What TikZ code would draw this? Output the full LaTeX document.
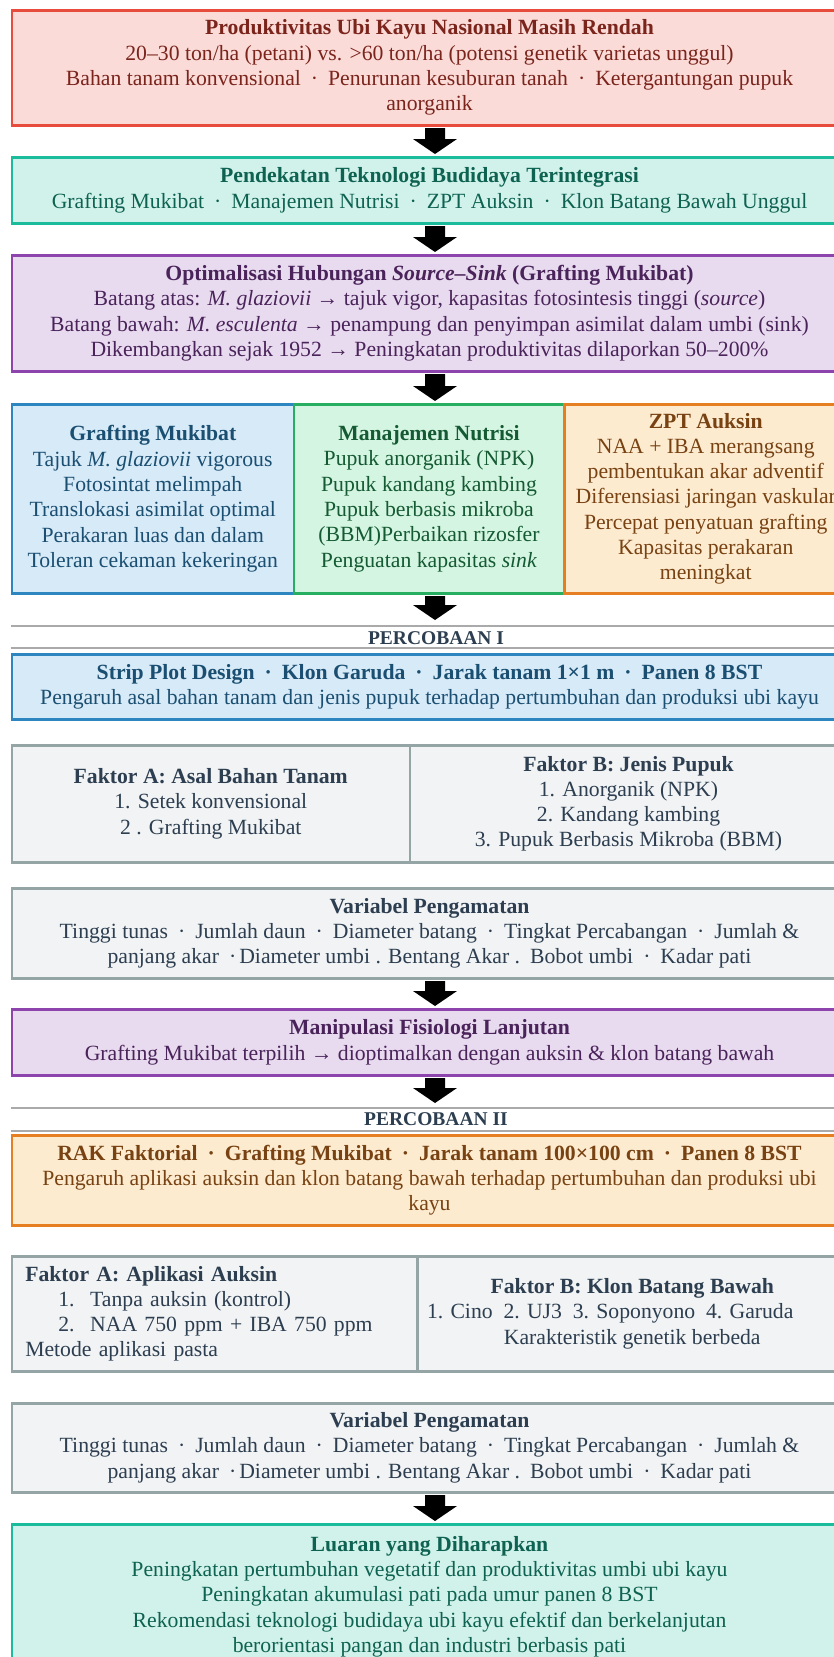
\documentclass[tikz,border=0pt]{standalone}
\usepackage{fontspec}
\setmainfont{Liberation Serif}
\usetikzlibrary{calc}
\definecolor{redfill}{HTML}{FADBD8}
\definecolor{redline}{HTML}{E74C3C}
\definecolor{redtext}{HTML}{7B241C}
\definecolor{tealfill}{HTML}{D1F2EB}
\definecolor{tealline}{HTML}{1ABC9C}
\definecolor{tealtext}{HTML}{0E6251}
\definecolor{purpfill}{HTML}{E8DAEF}
\definecolor{purpline}{HTML}{8E44AD}
\definecolor{purptext}{HTML}{4A235A}
\definecolor{bluefill}{HTML}{D6EAF8}
\definecolor{blueline}{HTML}{2E86C1}
\definecolor{bluetext}{HTML}{1B4F72}
\definecolor{grnfill}{HTML}{D5F5E3}
\definecolor{grnline}{HTML}{27AE60}
\definecolor{grntext}{HTML}{145A32}
\definecolor{orfill}{HTML}{FDEBD0}
\definecolor{orline}{HTML}{E67E22}
\definecolor{ortext}{HTML}{784212}
\definecolor{grayfill}{HTML}{F2F3F4}
\definecolor{grayline}{HTML}{95A5A6}
\definecolor{graytext}{HTML}{2C3E50}
\definecolor{sepline}{HTML}{AAAAAA}
\newcommand\myfs{\fontsize{21.7}{25.3}\selectfont}
\newcommand\dotsep{\hspace{10pt}·\hspace{10pt}}
\newcommand\blockarrow[3]{%
  \path (#1 -| axis) coordinate (bas) (#2 -| axis) coordinate (bae);
  \fill[black] ($(bas)+(-10,-1.5)$) -- ($(bas)+(10,-1.5)$) -- ($(bae)+(10,#3+15)$)
    -- ($(bae)+(22,#3+15)$) -- ($(bae)+(0,#3)$) -- ($(bae)+(-22,#3+15)$)
    -- ($(bae)+(-10,#3+15)$) -- cycle;}
\begin{document}
\begin{tikzpicture}[x=1pt,y=1pt,
  box/.style={rectangle, line width=2.5pt, inner sep=0pt, align=center, font=\myfs, anchor=north west},
  redbox/.style={box, draw=redline, fill=redfill, text=redtext},
  tealbox/.style={box, draw=tealline, fill=tealfill, text=tealtext},
  purpbox/.style={box, draw=purpline, fill=purpfill, text=purptext},
  bluebox/.style={box, draw=blueline, fill=bluefill, text=bluetext},
  grnbox/.style={box, draw=grnline, fill=grnfill, text=grntext},
  orbox/.style={box, draw=orline, fill=orfill, text=ortext},
  graybox/.style={box, draw=grayline, fill=grayfill, text=graytext},
  sepl/.style={draw=sepline, line width=1.5pt},
  lbl/.style={anchor=base, inner sep=0pt, text=graytext, font=\fontsize{19.5}{22}\selectfont\bfseries}]
\useasboundingbox (0,0) rectangle (834,-1657);
\fill[white] (0,0) rectangle (834,-1657);
\clip (0,0) rectangle (834,-1657);
\coordinate (axis) at (435,0);

\node[redbox, minimum width=835.5pt, minimum height=115pt] (prob) at (10.5,-9)
 {\textbf{Produktivitas Ubi Kayu Nasional Masih Rendah}\\
  20–30 ton/ha (petani) vs. >60 ton/ha (potensi genetik varietas unggul)\\
  Bahan tanam konvensional\dotsep Penurunan kesuburan tanah\dotsep Ketergantungan pupuk\\
  anorganik};

\node[tealbox, minimum width=835.5pt, minimum height=66pt] (tech) at (10.5,-156)
 {\textbf{Pendekatan Teknologi Budidaya Terintegrasi}\\
  Grafting Mukibat\dotsep Manajemen Nutrisi\dotsep ZPT Auksin\dotsep Klon Batang Bawah Unggul};

\node[purpbox, minimum width=835.5pt, minimum height=116pt] (src) at (10.5,-254)
 {\textbf{Optimalisasi Hubungan \textit{Source–Sink} (Grafting Mukibat)}\\
  Batang atas: \textit{M. glaziovii} → tajuk vigor, kapasitas fotosintesis tinggi (\textit{source})\\
  Batang bawah: \textit{M. esculenta} → penampung dan penyimpan asimilat dalam umbi (sink)\\
  Dikembangkan sejak 1952 → Peningkatan produktivitas dilaporkan 50–200\%};

\node[bluebox, minimum width=282pt, minimum height=189pt] (colA) at (10.5,-403)
 {\textbf{Grafting Mukibat}\\Tajuk \textit{M. glaziovii} vigorous\\Fotosintat melimpah\\
  Translokasi asimilat optimal\\Perakaran luas dan dalam\\Toleran cekaman kekeringan};
\node[grnbox, minimum width=270.5pt, minimum height=189pt] (colB) at (292.5,-403)
 {\textbf{Manajemen Nutrisi}\\Pupuk anorganik (NPK)\\Pupuk kandang kambing\\
  Pupuk berbasis mikroba\\(BBM)Perbaikan rizosfer\\Penguatan kapasitas \textit{sink}};
\node[orbox, minimum width=283pt, minimum height=189pt] (colC) at (563,-403)
 {\textbf{ZPT Auksin}\\NAA + IBA merangsang\\pembentukan akar adventif\\
  Diferensiasi jaringan vaskular\\Percepat penyatuan grafting\\Kapasitas perakaran\\meningkat};

\coordinate (r1a) at (10.5,-626); \coordinate (r1b) at (850,-626);
\coordinate (r2a) at (10.5,-648); \coordinate (r2b) at (850,-648);
\draw[sepl] (r1a) -- (r1b);
\draw[sepl] (r2a) -- (r2b);
\node[lbl] (perc1) at (436,-644) {PERCOBAAN I};

\node[bluebox, minimum width=835.5pt, minimum height=65pt] (strip) at (10.5,-653)
 {\textbf{Strip Plot Design\dotsep Klon Garuda\dotsep Jarak tanam 1×1 m\dotsep Panen 8 BST}\\
  Pengaruh asal bahan tanam dan jenis pupuk terhadap pertumbuhan dan produksi ubi kayu};

\node[graybox, minimum width=398pt, minimum height=117pt] (fa1) at (10.5,-744)
 {\textbf{Faktor A: Asal Bahan Tanam}\\1. Setek konvensional\\2 . Grafting Mukibat};
\node[graybox, minimum width=437.5pt, minimum height=117pt] (fb1) at (408.5,-744)
 {\textbf{Faktor B: Jenis Pupuk}\\1. Anorganik (NPK)\\2. Kandang kambing\\3. Pupuk Berbasis Mikroba (BBM)};

\node[graybox, minimum width=835.5pt, minimum height=90pt] (var1) at (10.5,-887)
 {\textbf{Variabel Pengamatan}\\
  Tinggi tunas\dotsep Jumlah daun\dotsep Diameter batang\dotsep Tingkat Percabangan\dotsep Jumlah \&\\
  panjang akar\hspace{10pt}·\hspace{3pt}Diameter umbi . Bentang Akar .\hspace{10pt}Bobot umbi\dotsep Kadar pati};

\node[purpbox, minimum width=835.5pt, minimum height=66pt] (manip) at (10.5,-1008)
 {\textbf{Manipulasi Fisiologi Lanjutan}\\
  Grafting Mukibat terpilih → dioptimalkan dengan auksin \& klon batang bawah};

\coordinate (q1a) at (10.5,-1108); \coordinate (q1b) at (850,-1108);
\coordinate (q2a) at (10.5,-1131); \coordinate (q2b) at (850,-1131);
\draw[sepl] (q1a) -- (q1b);
\draw[sepl] (q2a) -- (q2b);
\node[lbl] (perc2) at (436,-1125) {PERCOBAAN II};

\node[orbox, minimum width=835.5pt, minimum height=90pt] (rak) at (10.5,-1134)
 {\textbf{RAK Faktorial\dotsep Grafting Mukibat\dotsep Jarak tanam 100×100 cm\dotsep Panen 8 BST}\\
  Pengaruh aplikasi auksin dan klon batang bawah terhadap pertumbuhan dan produksi ubi\\kayu};

\node[graybox, align=left, inner xsep=13.5pt, text width=378.5pt, minimum height=115pt] (fa2) at (10.5,-1255)
 {\textbf{Faktor A: Aplikasi Auksin}\\
  \hspace*{33pt}\makebox[32pt][l]{1.}Tanpa auksin (kontrol)\\
  \hspace*{33pt}\makebox[32pt][l]{2.}NAA 750 ppm + IBA 750 ppm\\
  Metode aplikasi pasta};
\node[graybox, minimum width=430pt, minimum height=115pt] (fb2) at (416,-1255)
 {\textbf{Faktor B: Klon Batang Bawah}\\
  1. Cino\ \ 2. UJ3\ \ 3. Soponyono\ \ 4. Garuda\hspace*{44pt}\null\\
  Karakteristik genetik berbeda};

\node[graybox, minimum width=835.5pt, minimum height=89pt] (var2) at (10.5,-1402)
 {\textbf{Variabel Pengamatan}\\
  Tinggi tunas\dotsep Jumlah daun\dotsep Diameter batang\dotsep Tingkat Percabangan\dotsep Jumlah \&\\
  panjang akar\hspace{10pt}·\hspace{3pt}Diameter umbi . Bentang Akar .\hspace{10pt}Bobot umbi\dotsep Kadar pati};

\node[tealbox, minimum width=835.5pt, minimum height=145pt] (out) at (10.5,-1523)
 {\textbf{Luaran yang Diharapkan}\\
  Peningkatan pertumbuhan vegetatif dan produktivitas umbi ubi kayu\\
  Peningkatan akumulasi pati pada umur panen 8 BST\\
  Rekomendasi teknologi budidaya ubi kayu efektif dan berkelanjutan\\
  berorientasi pangan dan industri berbasis pati};

\blockarrow{prob.south}{tech.north}{2}
\blockarrow{tech.south}{src.north}{2}
\blockarrow{src.south}{colB.north}{2}
\blockarrow{colB.south}{r1a}{6}
\blockarrow{var1.south}{manip.north}{2}
\blockarrow{manip.south}{q1a}{5}
\blockarrow{var2.south}{out.north}{2}
\end{tikzpicture}
\end{document}
